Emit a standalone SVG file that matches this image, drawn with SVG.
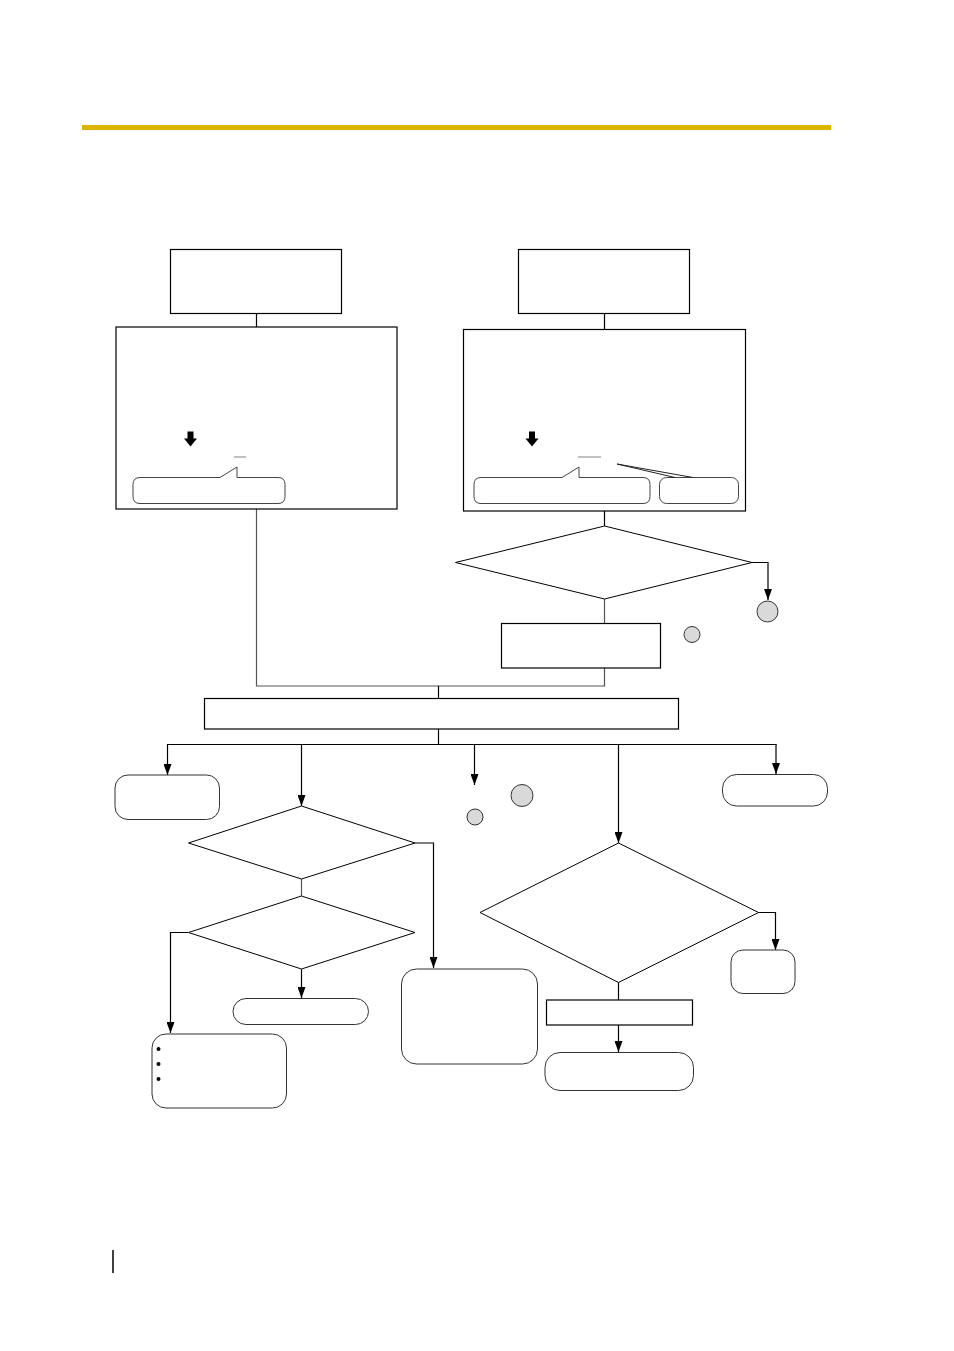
<svg xmlns="http://www.w3.org/2000/svg" width="954" height="1351" viewBox="0 0 954 1351">
<style>
.box{fill:#fff;stroke:#000;stroke-width:1.2}
.rbox{fill:#fff;stroke:#333;stroke-width:1}
.dia{fill:#fff;stroke:#000;stroke-width:1}
.ln{fill:none;stroke:#000;stroke-width:1.2}
.gln{fill:none;stroke:#555;stroke-width:1.2}
.arr{fill:none;stroke:#000;stroke-width:1.2;marker-end:url(#ah)}
.circ{fill:#d9d9d9;stroke:#333;stroke-width:1}
.call{fill:#fff;stroke:#444;stroke-width:1}
</style>
<defs>
<marker id="ah" viewBox="0 0 11 8" refX="11" refY="4" markerWidth="11" markerHeight="8" markerUnits="userSpaceOnUse" orient="auto">
<path d="M0,0 L11,4 L0,8 z" fill="#000"/>
</marker>
</defs>
<rect x="82" y="125" width="749" height="5" fill="#dbb400"/>
<line x1="113" y1="1250" x2="113" y2="1273" stroke="#000" stroke-width="1.5"/>

<g id="connectors">
<line class="ln" x1="256.5" y1="314" x2="256.5" y2="327"/>
<line class="ln" x1="604.5" y1="314" x2="604.5" y2="329"/>
<line class="ln" x1="604.5" y1="511" x2="604.5" y2="526"/>
<polyline class="arr" points="752,562.5 768,562.5 768,600"/>
<line class="gln" x1="604.5" y1="599" x2="604.5" y2="623"/>
<polyline class="gln" points="256.5,509 256.5,686 604.5,686 604.5,668"/>
<line class="ln" x1="438.5" y1="686" x2="438.5" y2="698"/>
<line class="ln" x1="438.5" y1="729" x2="438.5" y2="744"/>
<line class="ln" x1="167" y1="744.5" x2="776.5" y2="744.5"/>
<line class="arr" x1="167.5" y1="744" x2="167.5" y2="775"/>
<line class="arr" x1="301.5" y1="744" x2="301.5" y2="806"/>
<line class="arr" x1="474.5" y1="744" x2="474.5" y2="785"/>
<line class="arr" x1="618.5" y1="744" x2="618.5" y2="843"/>
<line class="arr" x1="776" y1="744" x2="776" y2="774"/>
<line class="gln" x1="301.5" y1="879" x2="301.5" y2="896"/>
<polyline class="arr" points="415,843 433.5,843 433.5,968"/>
<polyline class="arr" points="188,932.5 170.5,932.5 170.5,1033"/>
<line class="arr" x1="301.5" y1="969" x2="301.5" y2="998"/>
<polyline class="arr" points="758,912.5 775.5,912.5 775.5,950"/>
<line class="ln" x1="618.5" y1="982" x2="618.5" y2="1000"/>
<line class="arr" x1="618.5" y1="1025" x2="618.5" y2="1052"/>
</g>

<g id="n_top_left"><rect class="box" x="170.5" y="249.5" width="171" height="64"/></g>
<g id="n_panel_left">
<rect class="box" x="116" y="327" width="281" height="182"/>
<path d="M187.5,431.5 h6 v7 h3.5 l-6.5,8 l-6.5,-8 h3.5 z" fill="#000"/>
<line x1="234" y1="457" x2="246" y2="457" stroke="#999" stroke-width="1.2"/>
<path class="call" d="M140,477.5 H220 L237,467 V477.5 H278 Q285,477.5 285,484.5 V496.5 Q285,503.5 278,503.5 H140 Q133,503.5 133,496.5 V484.5 Q133,477.5 140,477.5 Z"/>
</g>

<g id="n_top_right"><rect class="box" x="518.5" y="249.5" width="171" height="64"/></g>
<g id="n_panel_right">
<rect class="box" x="463.5" y="329.5" width="282" height="181.5"/>
<path d="M529,431.5 h6 v7 h3.5 l-6.5,8 l-6.5,-8 h3.5 z" fill="#000"/>
<line x1="578" y1="457" x2="601" y2="457" stroke="#999" stroke-width="1.2"/>
<path class="call" d="M481,477.5 H562 L579,467 V477.5 H643 Q650,477.5 650,484.5 V496.5 Q650,503.5 643,503.5 H481 Q474,503.5 474,496.5 V484.5 Q474,477.5 481,477.5 Z"/>
<rect class="call" x="659.5" y="477.5" width="79" height="26" rx="7"/>
<polyline fill="none" stroke="#222" stroke-width="1" points="675,477.5 617,464 693,477.5"/>
</g>

<g id="n_dia1"><polygon class="dia" points="604.5,526 752,562.5 604.5,599 455.5,562.5"/></g>
<g id="n_circ1"><circle class="circ" cx="767.5" cy="611.5" r="10.5"/></g>
<g id="n_circ2"><circle class="circ" cx="692" cy="634.5" r="8"/></g>
<g id="n_box_r"><rect class="box" x="501.5" y="623.5" width="159" height="44.5"/></g>
<g id="n_wide"><rect class="box" x="204.5" y="698.5" width="474" height="30.5"/></g>

<g id="n_b1"><rect class="rbox" x="115" y="775" width="104.5" height="44.5" rx="13"/></g>
<g id="n_dia2"><polygon class="dia" points="301.5,806 415,843 301.5,879 188.5,843"/></g>
<g id="n_dia3"><polygon class="dia" points="301.5,896 415,932.5 301.5,969 188.5,932.5"/></g>
<g id="n_pill3"><rect class="rbox" x="233" y="998.5" width="135.5" height="26" rx="13"/></g>
<g id="n_list">
<rect class="rbox" x="152" y="1034" width="134.5" height="74" rx="14"/>
<circle cx="158.5" cy="1049" r="2" fill="#000"/>
<circle cx="158.5" cy="1064" r="2" fill="#000"/>
<circle cx="158.5" cy="1079" r="2" fill="#000"/>
</g>
<g id="n_tall"><rect class="rbox" x="401.5" y="969" width="136" height="95" rx="15"/></g>
<g id="n_circ3"><circle class="circ" cx="522" cy="795.5" r="11"/></g>
<g id="n_circ4"><circle class="circ" cx="475" cy="817" r="8"/></g>
<g id="n_dia4"><polygon class="dia" points="618.5,843 758.5,912.5 618.5,982.5 480,912.5"/></g>
<g id="n_b5"><rect class="rbox" x="731" y="950" width="64" height="43.5" rx="12"/></g>
<g id="n_rect4"><rect class="box" x="546.5" y="1000" width="146" height="25"/></g>
<g id="n_pill4"><rect class="rbox" x="545" y="1052.5" width="148.5" height="38" rx="15"/></g>
<g id="n_pill5"><rect class="rbox" x="722.5" y="774.5" width="105" height="31.5" rx="14"/></g>
</svg>
